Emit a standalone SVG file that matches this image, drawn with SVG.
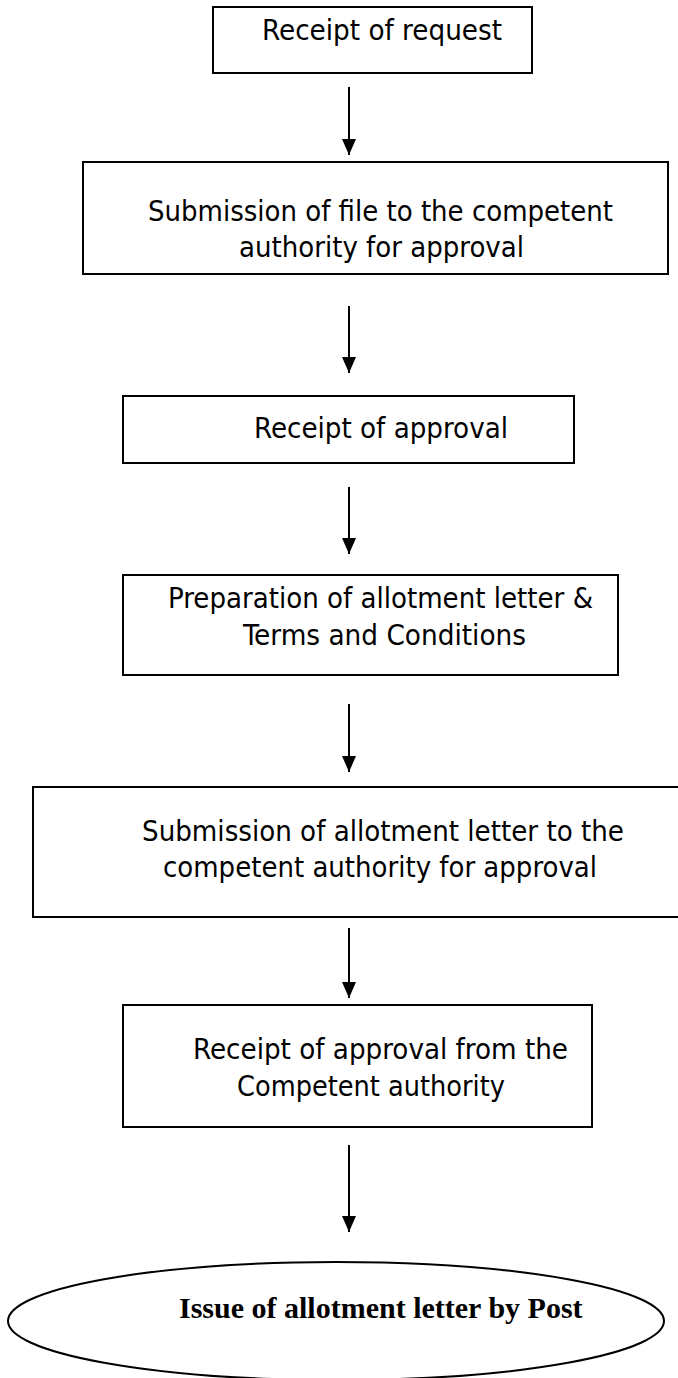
<svg xmlns="http://www.w3.org/2000/svg" width="678" height="1378" viewBox="0 0 678 1378">
<defs>
<style>
.box{fill:#fff;stroke:#000;stroke-width:2}
.t{font-family:"DejaVu Sans Condensed","DejaVu Sans",sans-serif;font-stretch:condensed;font-size:29px;fill:#000}
.b{font-family:"Liberation Serif","Times New Roman",serif;font-weight:bold;font-size:30px;fill:#000}
.c{stroke:#000;stroke-width:2;fill:none}
</style>
<marker id="ah" markerWidth="16" markerHeight="14" refX="16" refY="7" orient="auto" markerUnits="userSpaceOnUse" viewBox="0 0 16 14">
<path d="M0,0 L16,7 L0,14 Z" fill="#000"/>
</marker>
</defs>
<rect width="678" height="1378" fill="#fff"/>
<g id="connectors">
<line class="c" x1="349" y1="87" x2="349" y2="155" marker-end="url(#ah)"/>
<line class="c" x1="349" y1="306" x2="349" y2="373" marker-end="url(#ah)"/>
<line class="c" x1="349" y1="487" x2="349" y2="554" marker-end="url(#ah)"/>
<line class="c" x1="349" y1="704" x2="349" y2="772" marker-end="url(#ah)"/>
<line class="c" x1="349" y1="928" x2="349" y2="998" marker-end="url(#ah)"/>
<line class="c" x1="349" y1="1145" x2="349" y2="1232" marker-end="url(#ah)"/>
</g>
<g id="n1">
<rect class="box" x="213" y="7" width="319" height="66"/>
<text class="t" x="262" y="40" textLength="240" lengthAdjust="spacingAndGlyphs">Receipt of request</text>
</g>
<g id="n2">
<rect class="box" x="83" y="162" width="585" height="112"/>
<text class="t" x="148" y="221" textLength="465" lengthAdjust="spacingAndGlyphs">Submission of file to the competent</text>
<text class="t" x="239" y="257" textLength="285" lengthAdjust="spacingAndGlyphs">authority for approval</text>
</g>
<g id="n3">
<rect class="box" x="123" y="396" width="451" height="67"/>
<text class="t" x="254" y="438" textLength="254" lengthAdjust="spacingAndGlyphs">Receipt of approval</text>
</g>
<g id="n4">
<rect class="box" x="123" y="575" width="495" height="100"/>
<text class="t" x="168" y="608" textLength="425" lengthAdjust="spacingAndGlyphs">Preparation of allotment letter &amp;</text>
<text class="t" x="243" y="645" textLength="283" lengthAdjust="spacingAndGlyphs">Terms and Conditions</text>
</g>
<g id="n5">
<rect class="box" x="33" y="787" width="660" height="130"/>
<text class="t" x="142" y="841" textLength="482" lengthAdjust="spacingAndGlyphs">Submission of allotment letter to the</text>
<text class="t" x="163" y="877" textLength="434" lengthAdjust="spacingAndGlyphs">competent authority for approval</text>
</g>
<g id="n6">
<rect class="box" x="123" y="1005" width="469" height="122"/>
<text class="t" x="193" y="1059" textLength="375" lengthAdjust="spacingAndGlyphs">Receipt of approval from the</text>
<text class="t" x="237" y="1096" textLength="268" lengthAdjust="spacingAndGlyphs">Competent authority</text>
</g>
<g id="n7">
<ellipse cx="336" cy="1321" rx="328" ry="59" fill="#fff" stroke="#000" stroke-width="2"/>
<text class="b" x="179" y="1318">Issue of allotment letter by Post</text>
</g>
</svg>
